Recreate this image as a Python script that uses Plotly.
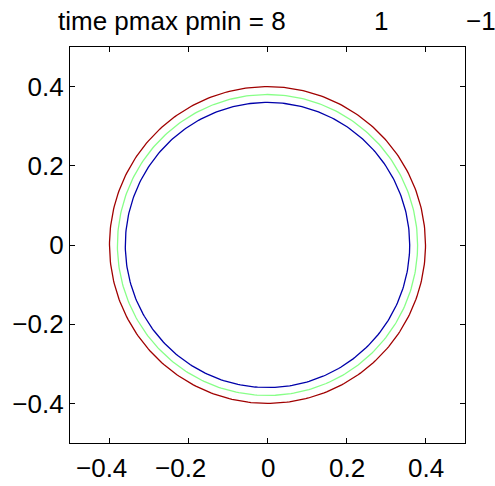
import numpy as np
import plotly.graph_objects as go

# Contour levels (radius of each circle) and colours
radii = [0.40, 0.38, 0.36]
colors = ["#a00000", "#88ff88", "#0000aa"]
tick_vals = [-0.4, -0.2, 0, 0.2, 0.4]
tick_text = ["\u22120.4", "\u22120.2", "0", "0.2", "0.4"]
title_parts = ["time pmax pmin = 8", "1", "\u22121"]

theta = np.linspace(0, 2 * np.pi, 361)

fig = go.Figure()
for r, c in zip(radii, colors):
    fig.add_trace(go.Scatter(x=r * np.cos(theta), y=r * np.sin(theta), mode="lines",
                             line=dict(color=c, width=1.3), hoverinfo="skip", showlegend=False))

font = dict(family="Liberation Sans, Arial, sans-serif", size=26, color="black")
axis = dict(range=[-0.5, 0.5], tickvals=tick_vals, ticktext=tick_text, ticks="inside",
            ticklen=5, tickcolor="black", showline=True, linecolor="black", linewidth=1.2,
            mirror="ticks", showgrid=False, zeroline=False, tickfont=font)
fig.update_xaxes(**axis, showticklabels=False)
fig.update_yaxes(**axis)

# x tick labels: MATLAB centres the number and lets the minus sign hang to the left
minus_w = 0.584 * font["size"]
for v, t in zip(tick_vals, tick_text):
    fig.add_annotation(text=t, x=v, xref="x", y=0, yref="paper", yanchor="top",
                       xanchor="center", yshift=-8,
                       xshift=-minus_w / 2 if t.startswith("\u2212") else 0,
                       showarrow=False, font=font)

L, R, T, B = 70, 30, 47, 43
W, H = 495, 486
pw = W - L - R
def px(x):
    return (x - L) / pw

ann_x = [56, 381, 481]
ann_anchor = ["left", "center", "center"]
for t, x, a in zip(title_parts, ann_x, ann_anchor):
    fig.add_annotation(text=t, x=px(x), xref="paper", y=1, yref="paper", yshift=9,
                       yanchor="bottom", xanchor=a, showarrow=False, font=font)

fig.update_layout(width=W, height=H, margin=dict(l=L, r=R, t=T, b=B),
                  plot_bgcolor="white", paper_bgcolor="white")
fig.write_html("out.html")
